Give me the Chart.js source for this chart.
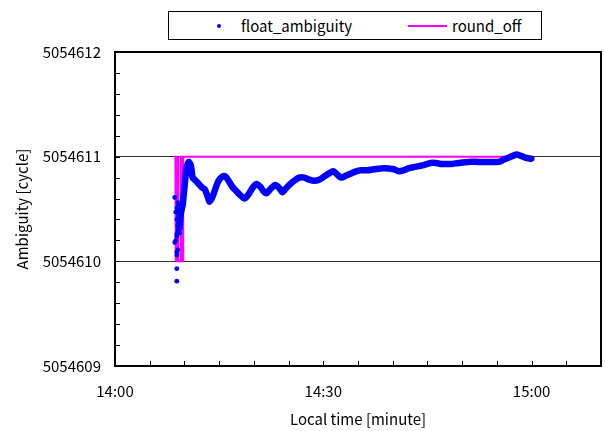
<!DOCTYPE html>
<html>
<head>
<meta charset="utf-8">
<script src="https://cdn.jsdelivr.net/npm/chart.js@4"></script>
<style>
  body { margin: 0; background: #fff; }
  #wrap { position: relative; width: 605px; height: 431px; }
  #legend {
    position: absolute; left: 168px; top: 11px; width: 372px; height: 27px;
    border: 1px solid #000; background: #fff;
    font-family: "Noto Sans CJK JP", "Noto Sans", sans-serif; font-size: 15px; color: #000;
  }
  #legend .item { position: absolute; top: 0; height: 27px; line-height: 27px; white-space: nowrap; }
  #legend .mark { position: absolute; }
</style>
</head>
<body>
<div id="wrap">
  <canvas id="myChart" width="605" height="431"></canvas>
  <div id="legend"></div>
</div>
<script>
// minutes after 14:00
const floatTimes = [9.33, 9.47, 9.61, 9.76, 9.90, 10.04, 10.19, 10.33, 10.62, 10.90, 11.05, 11.19, 11.48, 11.91,
  12.20, 12.63, 12.91, 13.34, 13.63, 14.06, 14.49, 14.92, 15.49, 15.93, 16.36, 16.93, 17.50, 18.08, 18.65,
  19.23, 19.80, 20.37, 20.95, 21.38, 21.81, 22.24, 22.67, 23.10, 23.67, 24.10, 24.53, 25.11, 25.82, 26.54,
  27.26, 27.98, 28.70, 29.41, 30.13, 30.85, 31.42, 31.99, 32.57, 33.29, 34.00, 34.72, 35.44, 36.30, 37.30,
  38.74, 40.17, 40.89, 41.61, 42.32, 43.04, 43.76, 44.48, 45.48, 46.20, 46.92, 47.63, 48.35, 49.50, 50.93,
  52.37, 53.80, 55.24, 55.95, 56.67, 57.39, 57.82, 58.39, 59.11, 59.97];
const floatValues = [5054610.35, 5054610.45, 5054610.50, 5054610.54, 5054610.64, 5054610.73, 5054610.83, 5054610.90,
  5054610.95, 5054610.92, 5054610.86, 5054610.80, 5054610.78, 5054610.75, 5054610.73, 5054610.70, 5054610.69,
  5054610.62, 5054610.57, 5054610.62, 5054610.70, 5054610.77, 5054610.81, 5054610.81, 5054610.77, 5054610.71,
  5054610.67, 5054610.63, 5054610.60, 5054610.64, 5054610.70, 5054610.74, 5054610.71, 5054610.67, 5054610.65,
  5054610.68, 5054610.71, 5054610.73, 5054610.70, 5054610.66, 5054610.69, 5054610.73, 5054610.77, 5054610.80,
  5054610.80, 5054610.78, 5054610.77, 5054610.78, 5054610.81, 5054610.84, 5054610.86, 5054610.83, 5054610.80,
  5054610.82, 5054610.84, 5054610.86, 5054610.87, 5054610.87, 5054610.88, 5054610.89, 5054610.88, 5054610.86,
  5054610.87, 5054610.89, 5054610.90, 5054610.91, 5054610.92, 5054610.94, 5054610.94, 5054610.93, 5054610.93,
  5054610.93, 5054610.94, 5054610.95, 5054610.95, 5054610.95, 5054610.95, 5054610.97, 5054610.99, 5054611.01,
  5054611.02, 5054611.01, 5054610.99, 5054610.98];

// scattered first epochs
const scatterTimes = [8.61, 9.04, 8.90, 9.04, 8.75, 9.18, 8.90, 9.33, 9.04, 9.04, 9.33, 9.04, 8.90, 8.90, 8.75,
  8.61, 9.04, 8.90, 8.90, 8.90, 8.90, 9.18, 9.33, 9.47, 9.18, 9.47, 9.33, 9.18];
const scatterValues = [5054610.61, 5054610.56, 5054610.51, 5054610.48, 5054610.47, 5054610.43, 5054610.40,
  5054610.38, 5054610.35, 5054610.33, 5054610.31, 5054610.29, 5054610.26, 5054610.24, 5054610.20, 5054610.18,
  5054610.11, 5054610.09, 5054610.06, 5054609.93, 5054609.81, 5054610.54, 5054610.50, 5054610.40, 5054610.35,
  5054610.32, 5054610.27, 5054610.45];

const roundTimes = [8.70, 8.70, 8.78, 8.78, 8.86, 8.86, 8.94, 8.94, 9.02, 9.02, 9.10, 9.10, 9.17, 9.17, 9.50,
  9.50, 9.58, 9.58, 9.66, 9.66, 9.74, 9.74, 9.82, 9.82, 59.75];
const roundValues = [5054611, 5054610, 5054610, 5054611, 5054611, 5054610, 5054610, 5054611, 5054611, 5054610,
  5054610, 5054611, 5054611, 5054610, 5054610, 5054611, 5054611, 5054610, 5054610, 5054611, 5054611, 5054610,
  5054610, 5054611, 5054611];

const xMajorMinutes = [0, 30, 60];
const xMajorLabels = ['14:00', '14:30', '15:00'];
const seriesLabels = ['float_ambiguity', 'round_off'];

const FONT = '"Noto Sans CJK JP", "Noto Sans", sans-serif';
const BLUE = '#0000FF';
const MAGENTA = '#FF00FF';

const toXY = (xs, ys) => xs.map((x, i) => ({x: x, y: ys[i]}));
const isWhole = v => Math.abs(v - Math.round(v)) < 1e-6;

// inward tick marks + full frame
const frame = {
  id: 'frame',
  afterDraw(chart) {
    const {ctx, chartArea: a, scales} = chart;
    ctx.save();
    ctx.strokeStyle = '#000';
    ctx.lineWidth = 1;
    ctx.beginPath();
    scales.x.ticks.forEach(t => {
      const px = Math.round(scales.x.getPixelForValue(t.value)) + 0.5;
      ctx.moveTo(px, a.bottom);
      ctx.lineTo(px, a.bottom - 5);
    });
    scales.y.ticks.forEach(t => {
      const py = Math.round(scales.y.getPixelForValue(t.value)) + 0.5;
      ctx.moveTo(a.left, py);
      ctx.lineTo(a.left + 5, py);
    });
    ctx.stroke();
    ctx.lineWidth = 2;
    ctx.strokeRect(a.left, a.top, a.right - a.left, a.bottom - a.top);
    ctx.restore();
  }
};

const myChart = new Chart(document.getElementById('myChart'), {
  type: 'line',
  data: {
    datasets: [
      {
        label: seriesLabels[0],
        data: toXY(floatTimes, floatValues),
        borderColor: BLUE,
        backgroundColor: BLUE,
        borderWidth: 6.5,
        pointRadius: 0,
        tension: 0.3,
        borderJoinStyle: 'round',
        borderCapStyle: 'round',
        order: 0
      },
      {
        label: seriesLabels[0],
        data: toXY(scatterTimes, scatterValues),
        showLine: false,
        pointRadius: 2.4,
        pointBorderWidth: 0,
        pointBackgroundColor: BLUE,
        order: 0
      },
      {
        label: seriesLabels[1],
        data: toXY(roundTimes, roundValues),
        borderColor: MAGENTA,
        borderWidth: 2,
        pointRadius: 0,
        tension: 0,
        order: 1
      }
    ]
  },
  options: {
    responsive: false,
    animation: false,
    devicePixelRatio: 1,
    layout: { padding: { top: 52, right: 2, left: 0, bottom: 0 } },
    plugins: { legend: { display: false }, tooltip: { enabled: false } },
    scales: {
      x: {
        type: 'linear',
        min: 0,
        max: 70,
        afterFit: s => { s.height = 65; },
        grid: { display: false, drawTicks: true, tickLength: 16 },
        border: { display: false },
        ticks: {
          stepSize: 5,
          autoSkip: false,
          maxRotation: 0,
          padding: 0,
          color: '#000',
          font: { family: FONT, size: 15 },
          callback: v => {
            const i = xMajorMinutes.indexOf(v);
            return i >= 0 ? xMajorLabels[i] : '';
          }
        },
        title: {
          display: true,
          text: 'Local time [minute]',
          color: '#000',
          font: { family: FONT, size: 15 },
          padding: { top: 0, bottom: 3 }
        }
      },
      y: {
        min: 5054609,
        max: 5054612,
        afterFit: s => { s.width = 115; },
        grid: {
          drawTicks: false,
          color: c => isWhole(c.tick.value) ? '#333' : 'rgba(0,0,0,0)',
          lineWidth: 1
        },
        border: { display: false },
        ticks: {
          stepSize: 0.2,
          autoSkip: false,
          padding: 14,
          color: '#000',
          font: { family: FONT, size: 15 },
          callback: v => isWhole(v) ? String(Math.round(v)) : ''
        },
        title: {
          display: true,
          text: 'Ambiguity [cycle]',
          color: '#000',
          font: { family: FONT, size: 15 },
          padding: { top: 13, bottom: 0 }
        }
      }
    }
  },
  plugins: [frame]
});

// legend box like the original
const legend = document.getElementById('legend');
legend.innerHTML =
  '<span class="mark" style="left:48px;top:12px;width:4px;height:4px;border-radius:2px;background:' + BLUE + '"></span>' +
  '<span class="item" style="left:72px">' + seriesLabels[0] + '</span>' +
  '<span class="mark" style="left:239px;top:13px;width:39px;height:2px;background:' + MAGENTA + '"></span>' +
  '<span class="item" style="left:283px">' + seriesLabels[1] + '</span>';
</script>
</body>
</html>
